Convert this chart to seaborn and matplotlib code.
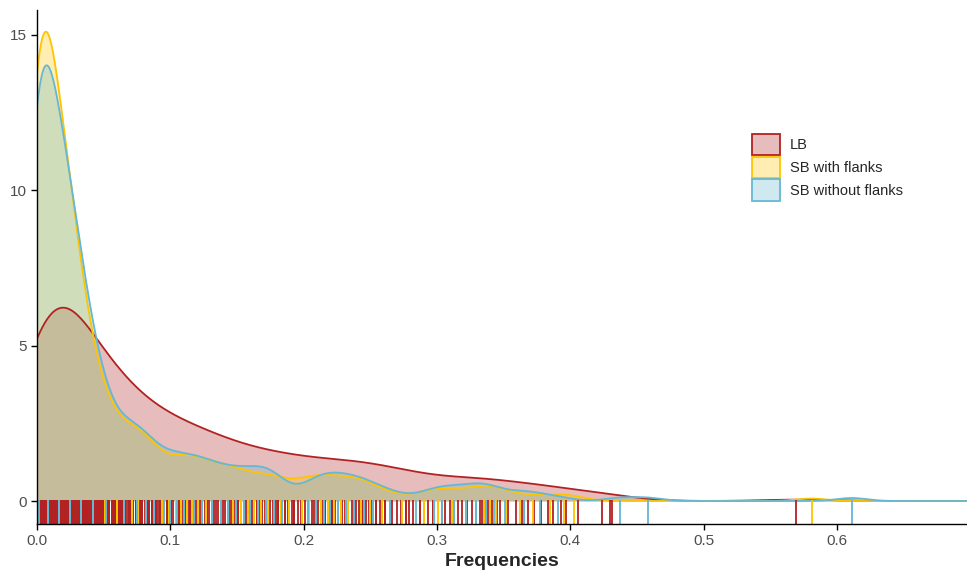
import numpy as np
import pandas as pd
import matplotlib
matplotlib.use("Agg")
import matplotlib.pyplot as plt
from matplotlib.patches import Patch
import seaborn as sns

# ---- data: observed frequencies (distinct value, number of observations) ----
groups = ["LB", "SB with flanks", "SB without flanks"]

lb_values = [
    0.000, 0.001, 0.002, 0.003, 0.004, 0.005, 0.006, 0.007, 0.008, 0.009,
    0.010, 0.011, 0.012, 0.013, 0.014, 0.015, 0.016, 0.017, 0.018, 0.019,
    0.020, 0.021, 0.022, 0.023, 0.024, 0.025, 0.026, 0.027, 0.028, 0.029,
    0.0305, 0.032, 0.0335, 0.035, 0.0365, 0.038, 0.0395,
    0.041, 0.0425, 0.044, 0.0455, 0.047, 0.0485,
    0.0505, 0.0525, 0.054, 0.056, 0.0575, 0.059,
    0.0605, 0.062, 0.0635, 0.066, 0.0675, 0.069,
    0.0705, 0.072, 0.074, 0.0755, 0.077, 0.079,
    0.081, 0.0825, 0.084, 0.086, 0.0875, 0.089,
    0.0905, 0.092, 0.0935, 0.095, 0.0975, 0.099,
    0.1005, 0.102, 0.104, 0.1055, 0.107, 0.109,
    0.111, 0.113, 0.1145, 0.1165, 0.118, 0.1195,
    0.1205, 0.122, 0.124, 0.126, 0.1275, 0.129,
    0.131, 0.1325, 0.134, 0.136, 0.138, 0.1395,
    0.141, 0.143, 0.1445, 0.146, 0.148, 0.1495,
    0.151, 0.153, 0.155, 0.157, 0.159,
    0.161, 0.163, 0.165, 0.167, 0.169,
    0.171, 0.173, 0.175, 0.177, 0.179,
    0.181, 0.1835, 0.186, 0.188,
    0.191, 0.193, 0.1955, 0.198,
    0.201, 0.2035, 0.206, 0.208,
    0.211, 0.2135, 0.216, 0.2185,
    0.221, 0.2235, 0.226, 0.2285,
    0.231, 0.2335, 0.236, 0.239,
    0.2415, 0.244, 0.2465, 0.249,
    0.2515, 0.254, 0.257, 0.259,
    0.261, 0.266, 0.270,
    0.273, 0.277, 0.279,
    0.282, 0.287,
    0.293, 0.297,
    0.3035, 0.306, 0.3095,
    0.316, 0.319,
    0.3225, 0.326, 0.329,
    0.332, 0.334, 0.338,
    0.341, 0.345, 0.347,
    0.353, 0.359, 0.364, 0.368, 0.373, 0.378, 0.383, 0.387, 0.393, 0.397,
    0.406, 0.424,
    0.4295, 0.431,
    0.569,
]
lb_counts = [
    14, 9, 10, 6, 5, 6, 6, 6, 5, 6,
    3, 3, 2, 3, 3, 3, 3, 3, 2, 2,
    2, 2, 2, 2, 2, 2, 2, 2, 2, 2,
    3, 3, 3, 3, 3, 2, 2,
    3, 3, 3, 4, 3, 3,
    3, 3, 3, 3, 3, 3,
    2, 3, 3, 3, 1, 2,
    2, 2, 2, 2, 2, 2,
    1, 2, 2, 2, 2, 2,
    1, 2, 1, 2, 2, 2,
    2, 1, 2, 2, 2, 1,
    2, 1, 2, 1, 2, 1,
    2, 1, 2, 1, 2, 1,
    2, 1, 1, 1, 2, 1,
    1, 2, 1, 1, 1, 1,
    2, 1, 1, 1, 1,
    1, 1, 2, 1, 1,
    1, 2, 1, 1, 1,
    2, 1, 2, 1,
    1, 2, 1, 1,
    1, 2, 1, 1,
    1, 1, 2, 1,
    2, 1, 1, 1,
    1, 2, 1, 1,
    1, 2, 1, 1,
    1, 2, 1, 1,
    2, 1, 1,
    1, 2, 1,
    1, 2,
    1, 2,
    1, 1, 1,
    1, 1,
    1, 1, 1,
    1, 1, 1,
    1, 1, 1,
    1, 1, 1, 1, 1, 1, 1, 1, 1, 1,
    1, 1,
    1, 1,
    1,
]

sbw_values = [
    0.0, 0.0015, 0.0085, 0.0168, 0.0248, 0.033, 0.042, 0.051, 0.060, 0.071,
    0.076, 0.082, 0.088, 0.0935, 0.099, 0.104, 0.108, 0.1125, 0.116, 0.121,
    0.127, 0.131, 0.138, 0.143, 0.147, 0.153,
    0.158, 0.163, 0.168, 0.173, 0.178, 0.183, 0.189,
    0.199, 0.204, 0.209, 0.213, 0.218, 0.223, 0.228, 0.233, 0.238, 0.243,
    0.250, 0.259, 0.274, 0.290, 0.301,
    0.311, 0.322, 0.335, 0.340, 0.344, 0.352, 0.362, 0.372,
    0.385, 0.395, 0.403, 0.581,
]
sbw_counts = [
    98, 26, 40, 48, 42, 24, 18, 14, 10, 10,
    6, 6, 4, 4, 2, 3, 2, 4, 3, 4,
    2, 3, 4, 2, 3, 2,
    2, 2, 2, 2, 2, 2, 2,
    2, 2, 2, 2, 2, 1, 2, 2, 2, 2,
    2, 2, 1, 2, 2,
    2, 2, 2, 2, 1, 1, 1, 1,
    1, 1, 1, 1,
]

sbo_values = [
    0.0, 0.0015, 0.0085, 0.0168, 0.0248, 0.033, 0.042, 0.052, 0.065, 0.075,
    0.082, 0.088, 0.095, 0.100, 0.105, 0.110, 0.118, 0.124, 0.131, 0.138,
    0.143, 0.149, 0.155, 0.160, 0.166, 0.172, 0.178, 0.184,
    0.203, 0.209, 0.215, 0.220, 0.226, 0.232, 0.238, 0.245, 0.252, 0.265,
    0.284, 0.298, 0.304, 0.313, 0.322, 0.329, 0.337, 0.343, 0.351, 0.365,
    0.377, 0.391, 0.437, 0.458, 0.611,
]
sbo_counts = [
    80, 14, 28, 40, 34, 22, 18, 14, 10, 10,
    4, 4, 4, 2, 3, 4, 4, 3, 4, 2,
    2, 3, 2, 2, 2, 4, 2, 2,
    2, 2, 2, 2, 2, 2, 2, 2, 2, 2,
    1, 2, 1, 2, 1, 2, 2, 1, 1, 2,
    1, 1, 1, 1, 1,
]

# ---- styling ----
line_colors = ["#B22222", "#FFC400", "#64B8D3"]
bandwidths = [0.025, 0.0115, 0.0115]
x_max = 0.6975

frames = []
for name, vals, cnts in zip(
    groups,
    [lb_values, sbw_values, sbo_values],
    [lb_counts, sbw_counts, sbo_counts],
):
    frames.append(pd.DataFrame({"group": name,
                                "freq": np.repeat(vals, cnts)}))
df = pd.concat(frames, ignore_index=True)

sns.set_style("ticks")
plt.rcParams["font.family"] = ["Liberation Sans", "DejaVu Sans"]

fig = plt.figure(figsize=(9.67, 5.70), dpi=100)
ax = fig.add_axes([37 / 967, 46 / 570, 930 / 967, 514 / 570])

# densities: fill then outline, group by group
for name, col, bw in zip(groups, line_colors, bandwidths):
    sub = df.loc[df["group"] == name, "freq"]
    factor = bw / sub.std(ddof=1)
    kde_kw = dict(bw_method=factor, clip=(0, x_max), cut=1000, gridsize=1200)
    sns.kdeplot(x=sub, ax=ax, fill=True, color=col, alpha=0.3,
                linewidth=0, **kde_kw)
    sns.kdeplot(x=sub, ax=ax, fill=False, color=col, linewidth=1.3, **kde_kw)

# rug of individual observations
for name, col in zip(groups, line_colors):
    sub = df.loc[df["group"] == name, "freq"]
    sns.rugplot(x=sub, ax=ax, height=0.046, color=col, linewidth=1.3,
                expand_margins=False)

ax.set_xlim(0, x_max)
ax.set_ylim(-0.74, 15.80)
ax.set_xticks([0.0, 0.1, 0.2, 0.3, 0.4, 0.5, 0.6])
ax.set_xticklabels(["0.0", "0.1", "0.2", "0.3", "0.4", "0.5", "0.6"])
ax.set_yticks([0, 5, 10, 15])
ax.set_yticklabels(["0", "5", "10", "15"])
ax.tick_params(axis="both", length=4, width=1.0, color="black",
               labelsize=11, labelcolor="#4D4D4D", pad=3.5)
ax.set_xlabel("Frequencies", fontsize=14, fontweight="bold", labelpad=3)
ax.set_ylabel("")
for side in ["top", "right"]:
    ax.spines[side].set_visible(False)
for side in ["left", "bottom"]:
    ax.spines[side].set_linewidth(1.0)
    ax.spines[side].set_color("black")

handles = [Patch(facecolor=matplotlib.colors.to_rgba(c, 0.3), edgecolor=c,
                 linewidth=1.3) for c in line_colors]
ax.legend(handles, groups, loc="upper left", bbox_to_anchor=(0.769, 0.759),
          frameon=False, fontsize=10.5, handlelength=1.9, handleheight=1.9,
          labelspacing=0.08, handletextpad=0.7, borderpad=0, borderaxespad=0)

fig.savefig("out.png", dpi=100)
